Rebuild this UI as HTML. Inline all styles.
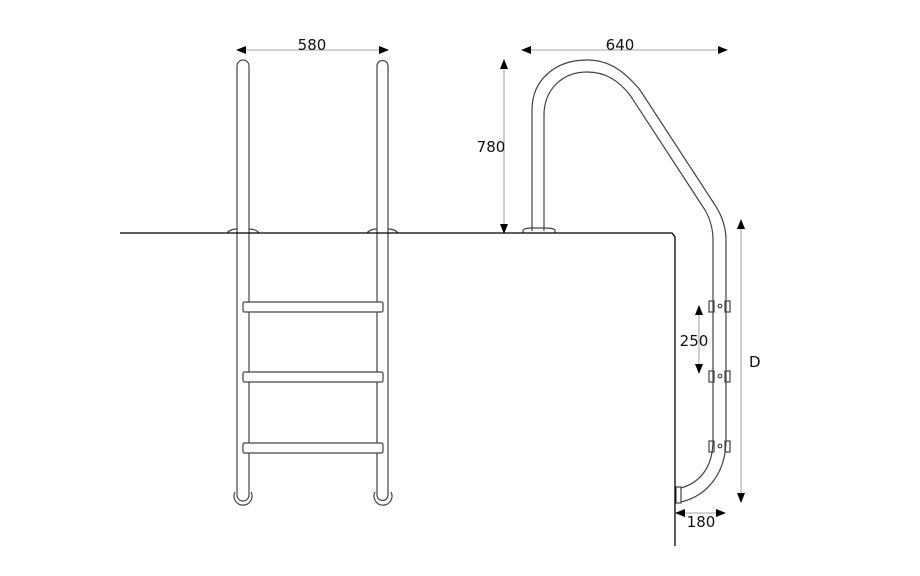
<!DOCTYPE html>
<html><head><meta charset="utf-8"><style>
html,body{margin:0;padding:0;background:#fff;}
svg{display:block;}
text{font-family:"DejaVu Sans","Liberation Sans",sans-serif;font-size:15px;fill:#111;}
</style></head><body>
<svg width="920" height="576" viewBox="0 0 920 576" xmlns="http://www.w3.org/2000/svg">
<defs>
<marker id="a" markerWidth="10" markerHeight="10" refX="9" refY="5" orient="auto-start-reverse" markerUnits="userSpaceOnUse">
<path d="M0,1 L10,5 L0,9 Z" fill="#000"/></marker>
</defs>
<g fill="none" stroke="#444" stroke-width="1.2">
<path d="M237,495 L237,66 A6,6 0 0 1 249,66 L249,495"/>
<path d="M377,495 L377,66 A5.5,5.5 0 0 1 388,66 L388,495"/>
<path d="M235,492 A9,9 0 1 0 251,492"/>
<path d="M237,495 A6,6 0 0 0 249,495"/>
<path d="M375,492 A9,9 0 1 0 391,492"/>
<path d="M377,495 A5.5,5.5 0 0 0 388,495"/>
<path d="M227,233 Q230,229 237,229 M249,229 Q256,229 259,233"/>
<path d="M367,233 Q370,229 377,229 M388,229 Q395,229 398,233"/>
<rect x="243" y="302" width="140" height="10" rx="1.5" fill="#fff"/>
<rect x="243" y="372" width="140" height="10" rx="1.5" fill="#fff"/>
<rect x="243" y="443" width="140" height="10" rx="1.5" fill="#fff"/>
<path d="M532,231 L532,110 C532,80 555,60 587,60 C610,60 625,72 640,90 L715,205 Q726,222 726,240 L726,440 C726,470 710,495 681,502"/>
<path d="M544,231 L544,115 C544,90 562,72 587,72 C605,72 618,80 630,95 L705,210 Q713,224 713,240 L713,440 C713,465 702,482 681,488"/>
<path d="M523,233 L523,230 Q525,228 532,228 L544,228 Q553,228 555,230 L555,233"/>
<rect x="676" y="487" width="5" height="16" fill="#fff"/>
<rect x="709" y="301" width="5" height="11"/><rect x="725" y="301" width="5" height="11"/><circle cx="720" cy="306" r="1.8"/>
<rect x="709" y="371" width="5" height="11"/><rect x="725" y="371" width="5" height="11"/><circle cx="720" cy="376" r="1.8"/>
<rect x="709" y="441" width="5" height="11"/><rect x="725" y="441" width="5" height="11"/><circle cx="720" cy="446" r="1.8"/>
</g>
<path d="M120,233 L672,233 L675,237 L675,546" fill="none" stroke="#000" stroke-width="1.3"/>
<g stroke="#888" stroke-width="0.8" fill="none">
<line x1="237" y1="50" x2="388" y2="50" marker-start="url(#a)" marker-end="url(#a)"/>
<line x1="522" y1="50" x2="727" y2="50" marker-start="url(#a)" marker-end="url(#a)"/>
<line x1="504" y1="60" x2="504" y2="233" marker-start="url(#a)" marker-end="url(#a)"/>
<line x1="699" y1="306" x2="699" y2="373" marker-start="url(#a)" marker-end="url(#a)"/>
<line x1="741" y1="220" x2="741" y2="502" marker-start="url(#a)" marker-end="url(#a)"/>
<line x1="676" y1="513" x2="725" y2="513" marker-start="url(#a)" marker-end="url(#a)"/>
</g>
<text x="312" y="50" text-anchor="middle">580</text>
<text x="620" y="50" text-anchor="middle">640</text>
<text x="491" y="152" text-anchor="middle">780</text>
<text x="694" y="346" text-anchor="middle">250</text>
<text x="749" y="367">D</text>
<text x="701" y="527" text-anchor="middle">180</text>
</svg>
</body></html>
